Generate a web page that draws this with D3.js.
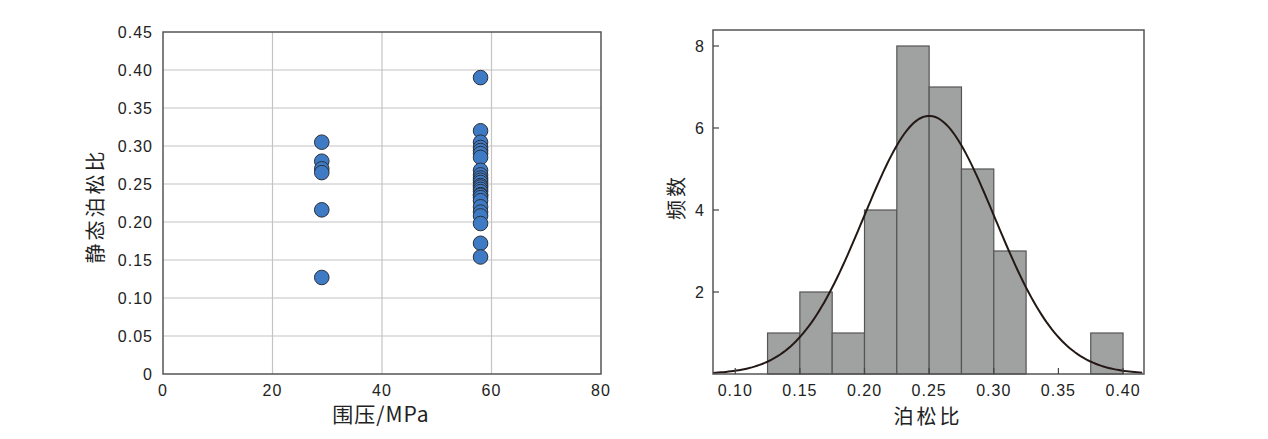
<!DOCTYPE html>
<html><head><meta charset="utf-8">
<script src="https://cdn.jsdelivr.net/npm/d3@7"></script>
<style>
body{margin:0;background:#fff;}
svg text{font-family:"Liberation Sans",Arial,sans-serif;fill:#222;}
.cjk{font-family:"Noto Sans CJK SC",sans-serif;}
</style></head>
<body><svg id="c" width="1268" height="439"></svg>
<script>
// ---- data ----
const pressure29 = [0.305, 0.280, 0.270, 0.265, 0.216, 0.127];
const pressure58 = [0.390, 0.320, 0.305, 0.298, 0.294, 0.290, 0.285, 0.268, 0.262, 0.258, 0.255, 0.252,
  0.248, 0.246, 0.243, 0.240, 0.236, 0.235, 0.232, 0.228, 0.220, 0.213, 0.208, 0.198, 0.172, 0.154];
const pressures = [29, 58];
const xTicksL = [0, 20, 40, 60, 80];
const yTicksL = [0, 0.05, 0.10, 0.15, 0.20, 0.25, 0.30, 0.35, 0.40, 0.45];

const binStarts = [0.125, 0.150, 0.175, 0.200, 0.225, 0.250, 0.275, 0.300, 0.325, 0.350, 0.375];
const binCounts = [1, 2, 1, 4, 8, 7, 5, 3, 0, 0, 1];
const binWidth = 0.025;
const fitMean = 0.25;
const fitSd = 0.0507;
const xTicksR = [0.10, 0.15, 0.20, 0.25, 0.30, 0.35, 0.40];
const yTicksR = [2, 4, 6, 8];

const svg = d3.select("#c");

// ---- left scatter ----
const L = {l:163, r:601, t:32, b:374};
const xL = d3.scaleLinear().domain([0, 80]).range([L.l, L.r]);
const yL = d3.scaleLinear().domain([0, 0.45]).range([L.b, L.t]);
const gL = svg.append("g");
gL.append("g").selectAll("line.v").data(xTicksL.slice(1, -1)).join("line")
  .attr("x1", d => xL(d)).attr("x2", d => xL(d)).attr("y1", L.t).attr("y2", L.b)
  .attr("stroke", "#c4c4c4").attr("stroke-width", 1.2);
gL.append("g").selectAll("line.h").data(yTicksL.slice(1, -1)).join("line")
  .attr("y1", d => yL(d)).attr("y2", d => yL(d)).attr("x1", L.l).attr("x2", L.r)
  .attr("stroke", "#c4c4c4").attr("stroke-width", 1.2);
gL.append("rect").attr("x", L.l).attr("y", L.t).attr("width", L.r - L.l).attr("height", L.b - L.t)
  .attr("fill", "none").attr("stroke", "#555").attr("stroke-width", 1.5);
gL.append("g").selectAll("text").data(xTicksL).join("text")
  .attr("x", d => xL(d)).attr("y", 396).attr("text-anchor", "middle")
  .attr("font-size", 16).attr("letter-spacing", 1).text(d => d);
gL.append("g").selectAll("text").data(yTicksL).join("text")
  .attr("x", 153).attr("y", d => yL(d) + 6).attr("text-anchor", "end")
  .attr("font-size", 16).attr("letter-spacing", 1).text(d => d === 0 ? "0" : d.toFixed(2));
const pts = [];
pressure29.forEach(v => pts.push([pressures[0], v]));
pressure58.forEach(v => pts.push([pressures[1], v]));
gL.append("g").selectAll("circle").data(pts).join("circle")
  .attr("cx", d => xL(d[0])).attr("cy", d => yL(d[1])).attr("r", 7.3)
  .attr("fill", "#3f7bc4").attr("stroke", "#2a2f3a").attr("stroke-width", 1);
gL.append("text").attr("class", "cjk").attr("x", 381).attr("y", 422).attr("text-anchor", "middle")
  .attr("font-size", 21).attr("letter-spacing", 1).text("围压/MPa");
gL.append("text").attr("class", "cjk").attr("transform", "translate(103,206) rotate(-90)")
  .attr("text-anchor", "middle").attr("font-size", 20).attr("letter-spacing", 3).text("静态泊松比");

// ---- right histogram ----
const R = {l:713, r:1144, t:30, b:374};
const xR = d3.scaleLinear().domain([0.0828, 0.4162]).range([R.l, R.r]);
const yR = d3.scaleLinear().domain([0, 8.39]).range([R.b, R.t]);
const gR = svg.append("g");
const bins = binStarts.map((s, i) => ({x0: s, x1: s + binWidth, n: binCounts[i]})).filter(b => b.n > 0);
gR.append("g").selectAll("rect").data(bins).join("rect")
  .attr("x", d => xR(d.x0)).attr("width", d => xR(d.x1) - xR(d.x0))
  .attr("y", d => yR(d.n)).attr("height", d => yR(0) - yR(d.n))
  .attr("fill", "#a0a2a1").attr("stroke", "#555").attr("stroke-width", 1.2);
const curveX = d3.range(0.0828, 0.4163, 0.002);
const peak = d3.sum(binCounts) * binWidth / (fitSd * Math.sqrt(2 * Math.PI));
const line = d3.line().x(d => xR(d)).y(d => yR(peak * Math.exp(-((d - fitMean) ** 2) / (2 * fitSd * fitSd))));
gR.append("path").datum(curveX).attr("d", line).attr("fill", "none")
  .attr("stroke", "#231815").attr("stroke-width", 2);
gR.append("rect").attr("x", R.l).attr("y", R.t).attr("width", R.r - R.l).attr("height", R.b - R.t)
  .attr("fill", "none").attr("stroke", "#555").attr("stroke-width", 1.5);
gR.append("g").selectAll("line").data(xTicksR).join("line")
  .attr("x1", d => xR(d)).attr("x2", d => xR(d)).attr("y1", R.b).attr("y2", R.b - 6)
  .attr("stroke", "#444").attr("stroke-width", 1.2);
gR.append("g").selectAll("line").data(yTicksR).join("line")
  .attr("y1", d => yR(d)).attr("y2", d => yR(d)).attr("x1", R.l).attr("x2", R.l + 6)
  .attr("stroke", "#444").attr("stroke-width", 1.2);
gR.append("g").selectAll("text").data(xTicksR).join("text")
  .attr("x", d => xR(d)).attr("y", 396).attr("text-anchor", "middle")
  .attr("font-size", 16).attr("letter-spacing", 1).text(d => d.toFixed(2));
gR.append("g").selectAll("text").data(yTicksR).join("text")
  .attr("x", 704).attr("y", d => yR(d) + 6).attr("text-anchor", "end")
  .attr("font-size", 16).text(d => d);
gR.append("text").attr("class", "cjk").attr("x", 928).attr("y", 424).attr("text-anchor", "middle")
  .attr("font-size", 20).attr("letter-spacing", 3).text("泊松比");
gR.append("text").attr("class", "cjk").attr("transform", "translate(684,197) rotate(-90)")
  .attr("text-anchor", "middle").attr("font-size", 20).attr("letter-spacing", 3).text("频数");
</script></body></html>
